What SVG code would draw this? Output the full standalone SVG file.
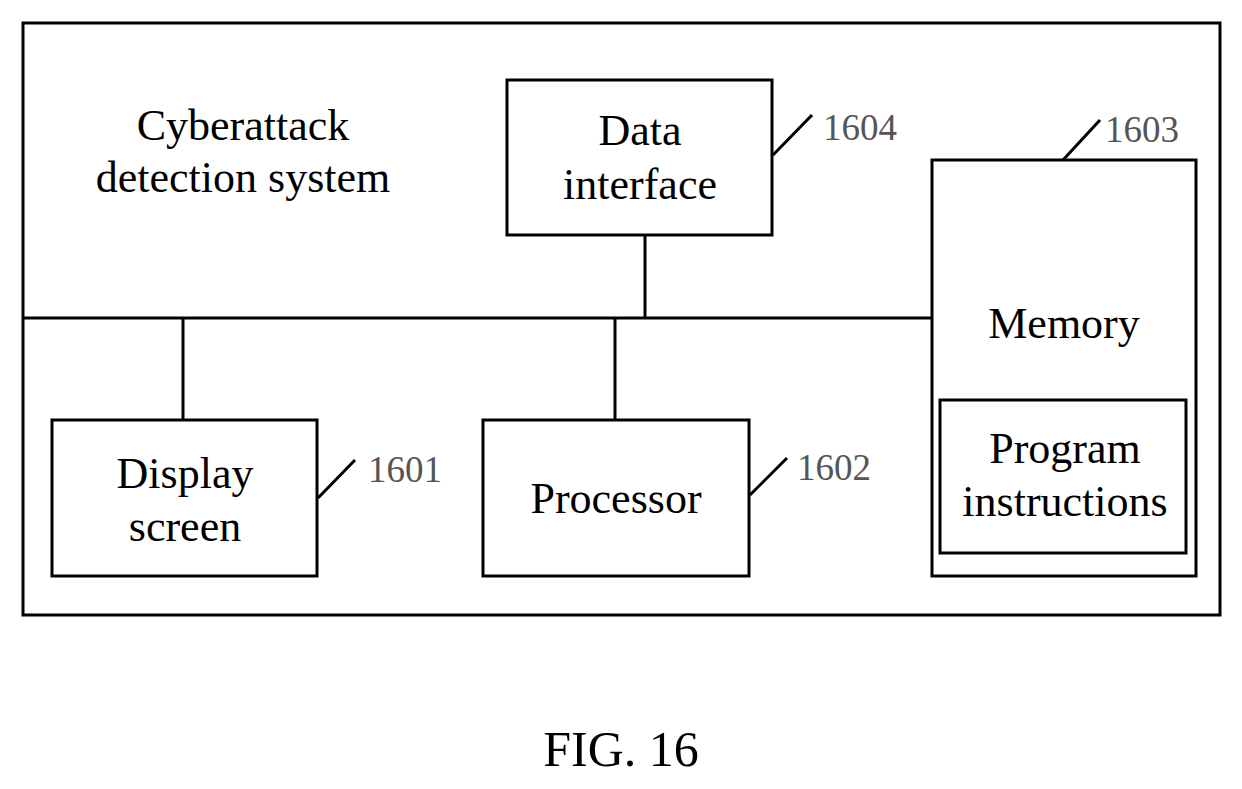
<svg xmlns="http://www.w3.org/2000/svg" width="1242" height="789" viewBox="0 0 1242 789">
<style>
rect{fill:none;stroke:#000;stroke-width:3}
line{stroke:#000;stroke-width:3}
text{font-family:"Liberation Serif",serif;font-size:44px;text-anchor:middle;fill:#000}
.n{font-size:37px;fill:#555}
</style>
<rect width="1242" height="789" style="fill:#fff;stroke:none"/>
<g id="system"><rect x="23" y="23" width="1197" height="592"/>
<text x="243" y="140">Cyberattack</text><text x="243" y="192">detection system</text></g>
<g id="connectors">
<line x1="23" y1="318" x2="932" y2="318"/>
<line x1="645" y1="235" x2="645" y2="318"/>
<line x1="183" y1="318" x2="183" y2="420"/>
<line x1="615" y1="318" x2="615" y2="420"/>
<line x1="773" y1="155" x2="812" y2="115"/>
<line x1="1063" y1="160" x2="1100" y2="120"/>
<line x1="318" y1="498" x2="355" y2="460"/>
<line x1="750" y1="495" x2="787" y2="458"/>
</g>
<g id="n1604"><rect x="507" y="80" width="265" height="155"/><text x="640" y="145">Data</text><text x="640" y="199">interface</text><text class="n" x="860" y="140">1604</text></g>
<g id="n1603"><rect x="932" y="160" width="264" height="416"/><text x="1064" y="338">Memory</text><text class="n" x="1142" y="142">1603</text></g>
<g id="prog"><rect x="940" y="400" width="246" height="153"/><text x="1065" y="463">Program</text><text x="1065" y="516">instructions</text></g>
<g id="n1601"><rect x="52" y="420" width="265" height="156"/><text x="185" y="488">Display</text><text x="185" y="541">screen</text><text class="n" x="405" y="482">1601</text></g>
<g id="n1602"><rect x="483" y="420" width="266" height="156"/><text x="616" y="513">Processor</text><text class="n" x="834" y="480">1602</text></g>
<text x="621" y="766" style="font-size:50px">FIG. 16</text>
</svg>
